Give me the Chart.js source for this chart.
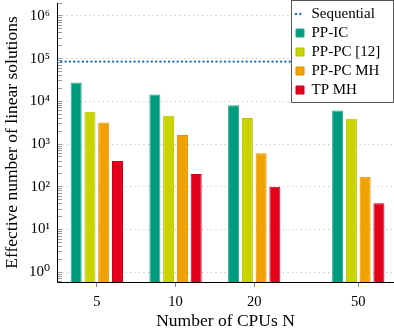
<!DOCTYPE html>
<html><head><meta charset="utf-8">
<script src="https://cdn.jsdelivr.net/npm/chart.js@4"></script>
<style>html,body{margin:0;padding:0;background:#fff;}#wrap{width:394px;height:332px;position:relative;}</style>
</head><body><div id="wrap"><canvas id="c" width="394" height="332"></canvas></div>
<script>
// ---- data ----
const cpus = [5, 10, 20, 50];
const sequential = 85000;
const ppIC = [27500, 14400, 8100, 6100];
const ppPC12 = [5700, 4600, 4100, 3900];
const ppPCMH = [3200, 1640, 610, 172];
const tpMH = [400, 200, 100, 41];
const seriesNames = ['Sequential', 'PP-IC', 'PP-PC [12]', 'PP-PC MH', 'TP MH'];
const xTickValues = [5, 10, 20, 50];
const yMajorTicks = [1, 10, 100, 1000, 10000, 100000, 1000000];
const yTickLabels = ['10⁰', '10¹', '10²', '10³', '10⁴', '10⁵', '10⁶'];
const X_MIN = 3.52, X_MAX = 68.5, Y_MIN = 0.593, Y_MAX = 2.0e6;

// ---- styling ----
const FONT = "'Liberation Serif', 'DejaVu Serif', serif";
Chart.defaults.font.family = FONT;
Chart.defaults.color = '#000';
const SEQ_COLOR = '#1f6fbf';
const SEQ_DASH = [0.01, 4.3];

const yAllTicks = [];
[0.1].concat(yMajorTicks).forEach(d => {
  for (let m = 1; m <= 9; m++) {
    const v = parseFloat((m * d).toPrecision(6));
    if (v >= Y_MIN && v <= Y_MAX) yAllTicks.push(v);
  }
});
const majorIndex = v => yMajorTicks.findIndex(t => Math.abs(t - v) / t < 1e-9);

const pts = arr => cpus.map((c, i) => ({x: c, y: arr[i]}));

const legendBox = {
  id: 'legendBox',
  afterLayout(chart) {
    const lg = chart.legend;
    if (!lg) return;
    lg.left = 292; lg.top = 2.5; lg.right = 394;
  },
  afterDatasetsDraw(chart) {
    const c = chart.ctx;
    c.save();
    c.fillStyle = '#fff';
    c.fillRect(291, 0, 103, 103);
    c.strokeStyle = '#555';
    c.lineWidth = 1;
    c.strokeRect(291.5, 0.5, 102, 102);
    c.restore();
    chart.legend.draw();
  }
};

new Chart(document.getElementById('c'), {
  type: 'bar',
  data: {
    datasets: [
      {type: 'line', label: seriesNames[0], data: [{x: X_MIN, y: sequential}, {x: X_MAX, y: sequential}],
       borderColor: SEQ_COLOR, backgroundColor: SEQ_COLOR, borderWidth: 2.4, borderDash: SEQ_DASH, borderCapStyle: 'round',
       pointRadius: 0, fill: false},
      {label: seriesNames[1], data: pts(ppIC), backgroundColor: '#009b7d', borderColor: '#2aa98e', borderWidth: 1},
      {label: seriesNames[2], data: pts(ppPC12), backgroundColor: '#c9d400', borderColor: '#b7c000', borderWidth: 1},
      {label: seriesNames[3], data: pts(ppPCMH), backgroundColor: '#f2a200', borderColor: '#df9000', borderWidth: 1},
      {label: seriesNames[4], data: pts(tpMH), backgroundColor: '#e2001a', borderColor: '#cc0018', borderWidth: 1}
    ]
  },
  options: {
    responsive: false,
    animation: false,
    layout: {padding: {top: 3, right: 0, left: 0, bottom: 0}},
    datasets: {bar: {categoryPercentage: 0.7, barPercentage: 0.8}},
    scales: {
      x: {
        type: 'logarithmic', min: X_MIN, max: X_MAX, offset: false,
        afterBuildTicks(s) { s.ticks = xTickValues.map(v => ({value: v})); },
        afterFit(s) { s.height = 50; s.paddingLeft = 0; s.paddingRight = 0; },
        ticks: {autoSkip: false, maxRotation: 0, minRotation: 0, padding: 6, font: {size: 14.5}, color: '#000',
                callback: v => String(v)},
        grid: {offset: false, drawOnChartArea: false, drawTicks: true, tickLength: 5, tickColor: '#888'},
        border: {color: '#000', width: 1},
        title: {display: true, text: 'Number of CPUs N', font: {size: 17.5}, color: '#000', padding: {top: 0, bottom: 0}}
      },
      y: {
        type: 'logarithmic', min: Y_MIN, max: Y_MAX, beginAtZero: false,
        afterBuildTicks(s) { s.ticks = yAllTicks.map(v => ({value: v})); },
        afterFit(s) { s.width = 57; s.paddingTop = 0; s.paddingBottom = 0; },
        ticks: {autoSkip: false, padding: 12, font: {size: 15}, color: '#000',
                callback: v => { const k = majorIndex(v); return k >= 0 ? yTickLabels[k] : ''; }},
        grid: {
          color: c => (c.tick && majorIndex(c.tick.value) >= 0) ? '#b8b8b8' : 'rgba(0,0,0,0)',
          lineWidth: 1, tickLength: -5, tickColor: '#9a9a9a', tickBorderDash: [], tickWidth: 1
        },
        border: {color: '#000', width: 1, dash: [1, 3.5]},
        title: {display: true, text: 'Effective number of linear solutions', font: {size: 17.5}, color: '#000', padding: {top: 2, bottom: 0}}
      }
    },
    plugins: {
      tooltip: {enabled: false},
      legend: {
        position: 'chartArea', align: 'start',
        labels: {
          usePointStyle: true, pointStyleWidth: 8, boxHeight: 8, padding: 4, color: '#000', font: {size: 15},
          generateLabels(chart) {
            const items = Chart.defaults.plugins.legend.labels.generateLabels(chart);
            items.forEach((it, i) => {
              it.fontColor = '#000';
              if (i === 0) {
                it.pointStyle = 'line';
                it.strokeStyle = SEQ_COLOR;
                it.lineWidth = 2.4;
                it.lineDash = SEQ_DASH;
                it.lineCap = 'round';
              } else {
                it.pointStyle = 'rect';
              }
            });
            return items;
          }
        }
      }
    }
  },
  plugins: [legendBox]
});
</script></body></html>
